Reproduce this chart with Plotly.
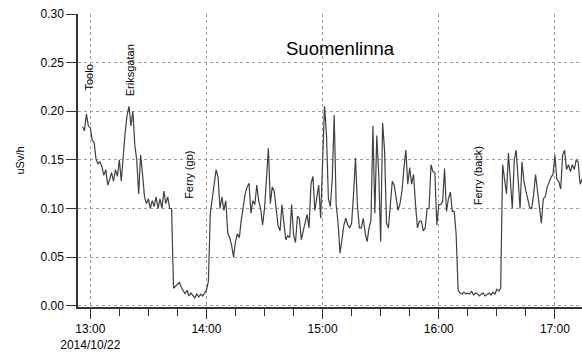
import pandas as pd
import plotly.graph_objects as go

# ---- data -------------------------------------------------------------
start_time = "2014-10-22 12:56:00"   # first sample, one sample per minute
dose_rate = [
    0.184, 0.180, 0.197, 0.185, 0.183, 0.170, 0.168, 0.150, 0.146, 0.148,
    0.143, 0.134, 0.140, 0.124, 0.130, 0.137, 0.128, 0.140, 0.133, 0.150,
    0.128, 0.155, 0.178, 0.196, 0.205, 0.185, 0.200, 0.165, 0.150, 0.115,
    0.155, 0.135, 0.112, 0.105, 0.110, 0.100, 0.108, 0.102, 0.112, 0.100,
    0.110, 0.100, 0.118,
    # 13:39 -
    0.105, 0.112, 0.100, 0.100, 0.018, 0.020, 0.022, 0.024, 0.019, 0.016,
    0.012, 0.016, 0.010, 0.013, 0.011, 0.008, 0.012, 0.009, 0.012, 0.010,
    0.013, 0.016, 0.025, 0.095, 0.110, 0.128, 0.140, 0.132, 0.100, 0.112,
    0.098, 0.108, 0.075, 0.070, 0.062, 0.050, 0.066, 0.074, 0.070, 0.088,
    0.100, 0.115, 0.122,
    # 14:22 -
    0.126, 0.095, 0.108, 0.104, 0.124, 0.108, 0.100, 0.083, 0.100, 0.130,
    0.162, 0.105, 0.122, 0.118, 0.098, 0.082, 0.077, 0.104, 0.085, 0.068,
    0.072, 0.070, 0.104, 0.073, 0.065, 0.092, 0.090, 0.068, 0.077, 0.086,
    0.094, 0.080, 0.125, 0.133, 0.098, 0.111, 0.124, 0.090, 0.140, 0.205,
    0.176, 0.110, 0.102, 0.131, 0.196,
    # 15:07 -
    0.104, 0.085, 0.054, 0.068, 0.083, 0.090, 0.083, 0.080, 0.085, 0.115,
    0.152, 0.103, 0.080, 0.080, 0.090, 0.075, 0.066, 0.080, 0.088, 0.185,
    0.095, 0.175, 0.135, 0.066, 0.188, 0.160, 0.085, 0.080, 0.108, 0.128,
    0.124, 0.110, 0.098, 0.105, 0.118, 0.141, 0.160, 0.125, 0.142, 0.125,
    0.135, 0.104, 0.080,
    # 15:50 -
    0.087, 0.087, 0.077, 0.080, 0.100, 0.100, 0.145, 0.138, 0.137, 0.083,
    0.104, 0.104, 0.107, 0.141, 0.097, 0.110, 0.117, 0.097, 0.097, 0.073,
    0.016, 0.013, 0.012, 0.014, 0.012, 0.013, 0.012, 0.015, 0.011, 0.013,
    0.012, 0.010, 0.012, 0.013, 0.010, 0.012, 0.013, 0.011, 0.014, 0.012,
    0.017, 0.015, 0.018,
    # 16:33 -
    0.145, 0.130, 0.115, 0.157, 0.125, 0.100, 0.150, 0.160, 0.130, 0.100,
    0.148, 0.128, 0.118, 0.110, 0.101, 0.100, 0.114, 0.135, 0.120, 0.103,
    0.085, 0.110, 0.112, 0.122, 0.128, 0.132, 0.135, 0.155, 0.130, 0.128,
    0.120, 0.155, 0.160, 0.140, 0.145, 0.138, 0.145, 0.140, 0.150, 0.148,
    0.125, 0.130,
]
times = pd.date_range(start_time, periods=len(dose_rate), freq="1min")

tick_times = ["2014-10-22 13:00", "2014-10-22 14:00", "2014-10-22 15:00",
              "2014-10-22 16:00", "2014-10-22 17:00"]
tick_labels = ["13:00<br>2014/10/22", "14:00", "15:00", "16:00", "17:00"]

event_labels = ["Toolo", "Eriksgatan", "Ferry (go)", "Ferry (back)"]
event_times = ["2014-10-22 12:59:30", "2014-10-22 13:20:40",
               "2014-10-22 13:51:00", "2014-10-22 16:20:00"]
event_levels = [0.235, 0.2425, 0.1346, 0.1336]

title_text = "Suomenlinna"
y_title = "uSv/h"

# ---- figure -----------------------------------------------------------
FONT = "Liberation Sans, Arial, sans-serif"

fig = go.Figure()
fig.add_trace(go.Scatter(
    x=times, y=dose_rate, mode="lines",
    line=dict(color="#404040", width=1.2),
    showlegend=False, hoverinfo="skip",
))

for txt, t, lvl in zip(event_labels, event_times, event_levels):
    fig.add_annotation(x=t, y=lvl, xref="x", yref="y", text=txt,
                       textangle=-90, showarrow=False,
                       font=dict(family=FONT, size=11, color="#000"))

fig.add_annotation(x=0.52, y=0.925, xref="paper", yref="paper",
                   text=title_text, showarrow=False,
                   font=dict(family=FONT, size=18.5, color="#000"))

fig.update_layout(
    width=582, height=352,
    margin=dict(l=78, r=0, t=14, b=45),
    paper_bgcolor="white", plot_bgcolor="white",
    font=dict(family=FONT, size=12, color="#000"),
    xaxis=dict(
        type="date",
        range=["2014-10-22 12:53:39", "2014-10-22 17:14:00"],
        tickvals=tick_times, ticktext=tick_labels,
        ticks="outside", ticklen=10, tickwidth=1, tickcolor="#333",
        showline=True, linecolor="#333", linewidth=1.5,
        showgrid=True, gridcolor="#a0a0a0", griddash="dot", gridwidth=1,
        zeroline=False,
        tickfont=dict(family=FONT, size=12, color="#000"),
        minor=dict(dtick=900000, tick0="2014-10-22 13:00", ticks="outside",
                   ticklen=7, tickwidth=1, tickcolor="#333", showgrid=False),
    ),
    yaxis=dict(
        range=[-0.0013, 0.30], dtick=0.05, tick0=0, tickformat=".2f",
        ticks="outside", ticklen=10, tickwidth=1, tickcolor="#333",
        showline=True, linecolor="#333", linewidth=1.5,
        showgrid=True, gridcolor="#a0a0a0", griddash="dot", gridwidth=1,
        zeroline=False,
        tickfont=dict(family=FONT, size=12, color="#000"),
        title=dict(text=y_title, standoff=14,
                   font=dict(family=FONT, size=11, color="#000")),
    ),
)

fig.write_html(
    "out.html",
    config={"displayModeBar": False},
    post_script="document.body.style.margin='0px';"
                "document.body.style.overflow='hidden';",
)
